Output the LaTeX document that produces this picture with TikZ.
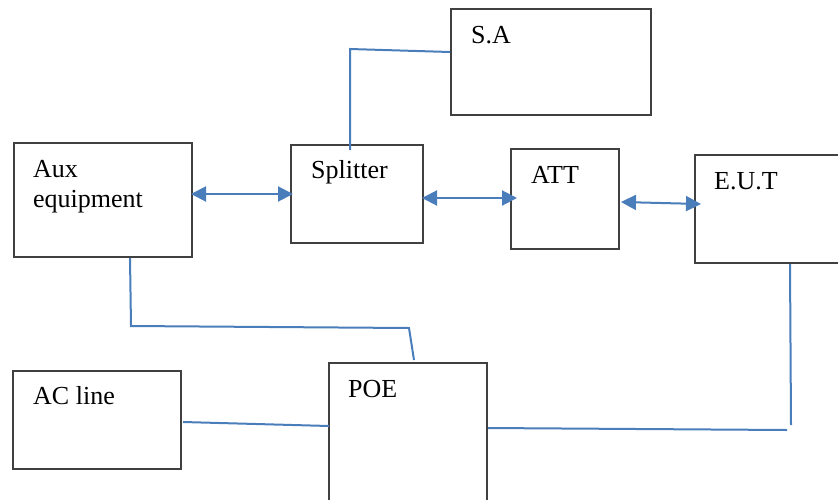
\documentclass[tikz,border=0pt]{standalone}
\usepackage{fontspec}
\setmainfont{Liberation Serif}
\usetikzlibrary{arrows.meta}
\definecolor{boxgray}{HTML}{404040}
\definecolor{wire}{HTML}{4A7EBB}
\tikzset{
  x=1pt, y=-1pt,
  box/.style={draw=boxgray, line width=1.5pt, fill=none, inner sep=0pt, anchor=north west},
  lbl/.style={anchor=base west, inner sep=0pt, font=\fontsize{26}{30}\selectfont, text=black},
  wireline/.style={draw=wire, line width=2pt},
  biarrow/.style={wireline, {Triangle[length=15pt,width=15pt]}-{Triangle[length=15pt,width=15pt]}},
}
\begin{document}
\begin{tikzpicture}
\useasboundingbox (0,0) rectangle (838,499);
% boxes
\node[box, minimum width=178pt, minimum height=114pt] (aux) at (13,142) {};
\node[box, minimum width=132pt, minimum height=98pt] (spl) at (290,144) {};
\node[box, minimum width=200pt, minimum height=106pt] (sa) at (450,8) {};
\node[box, minimum width=108pt, minimum height=100pt] (att) at (510,148) {};
\node[box, minimum width=160pt, minimum height=108pt] (eut) at (694,154) {};
\node[box, minimum width=168pt, minimum height=98pt] (ac) at (12,370) {};
\node[box, minimum width=158pt, minimum height=160pt] (poe) at (328,362) {};
% labels
\node[lbl] (tsa) at (471,43) {S.A};
\node[lbl] (taux) at (33,177) {Aux};
\node[lbl] (teq) at (33,207) {equipment};
\node[lbl] (tspl) at (311,178) {Splitter};
\node[lbl] (tatt) at (531,183) {ATT};
\node[lbl] (teut) at (714,189) {E.U.T};
\node[lbl] (tac) at (33,404) {AC line};
\node[lbl] (tpoe) at (348,397) {POE};
% connector points
\coordinate (s1) at (350,150);
\coordinate (s2) at (350,49);
\coordinate (s3) at (450,52);
\coordinate (a1) at (130,258);
\coordinate (a2) at (131,326);
\coordinate (a3) at (409,328);
\coordinate (a4) at (414,360);
\coordinate (c1) at (183,422);
\coordinate (c2) at (329,426);
\coordinate (p1) at (488,428);
\coordinate (p2) at (787,430);
\coordinate (e1) at (791,425);
\coordinate (e2) at (790,264);
\coordinate (l1) at (191,194);
\coordinate (l2) at (293,194);
\coordinate (m1) at (422,198);
\coordinate (m2) at (517,198);
\coordinate (r1) at (621,202);
\coordinate (r2) at (701,204);
% connectors
\draw[wireline] (s1) -- (s2) -- (s3);
\draw[wireline] (a1) -- (a2) -- (a3) -- (a4);
\draw[wireline] (c1) -- (c2);
\draw[wireline] (p1) -- (p2);
\draw[wireline] (e1) -- (e2);
\draw[biarrow] (l1) -- (l2);
\draw[biarrow] (m1) -- (m2);
\draw[biarrow] (r1) -- (r2);
\end{tikzpicture}
\end{document}
